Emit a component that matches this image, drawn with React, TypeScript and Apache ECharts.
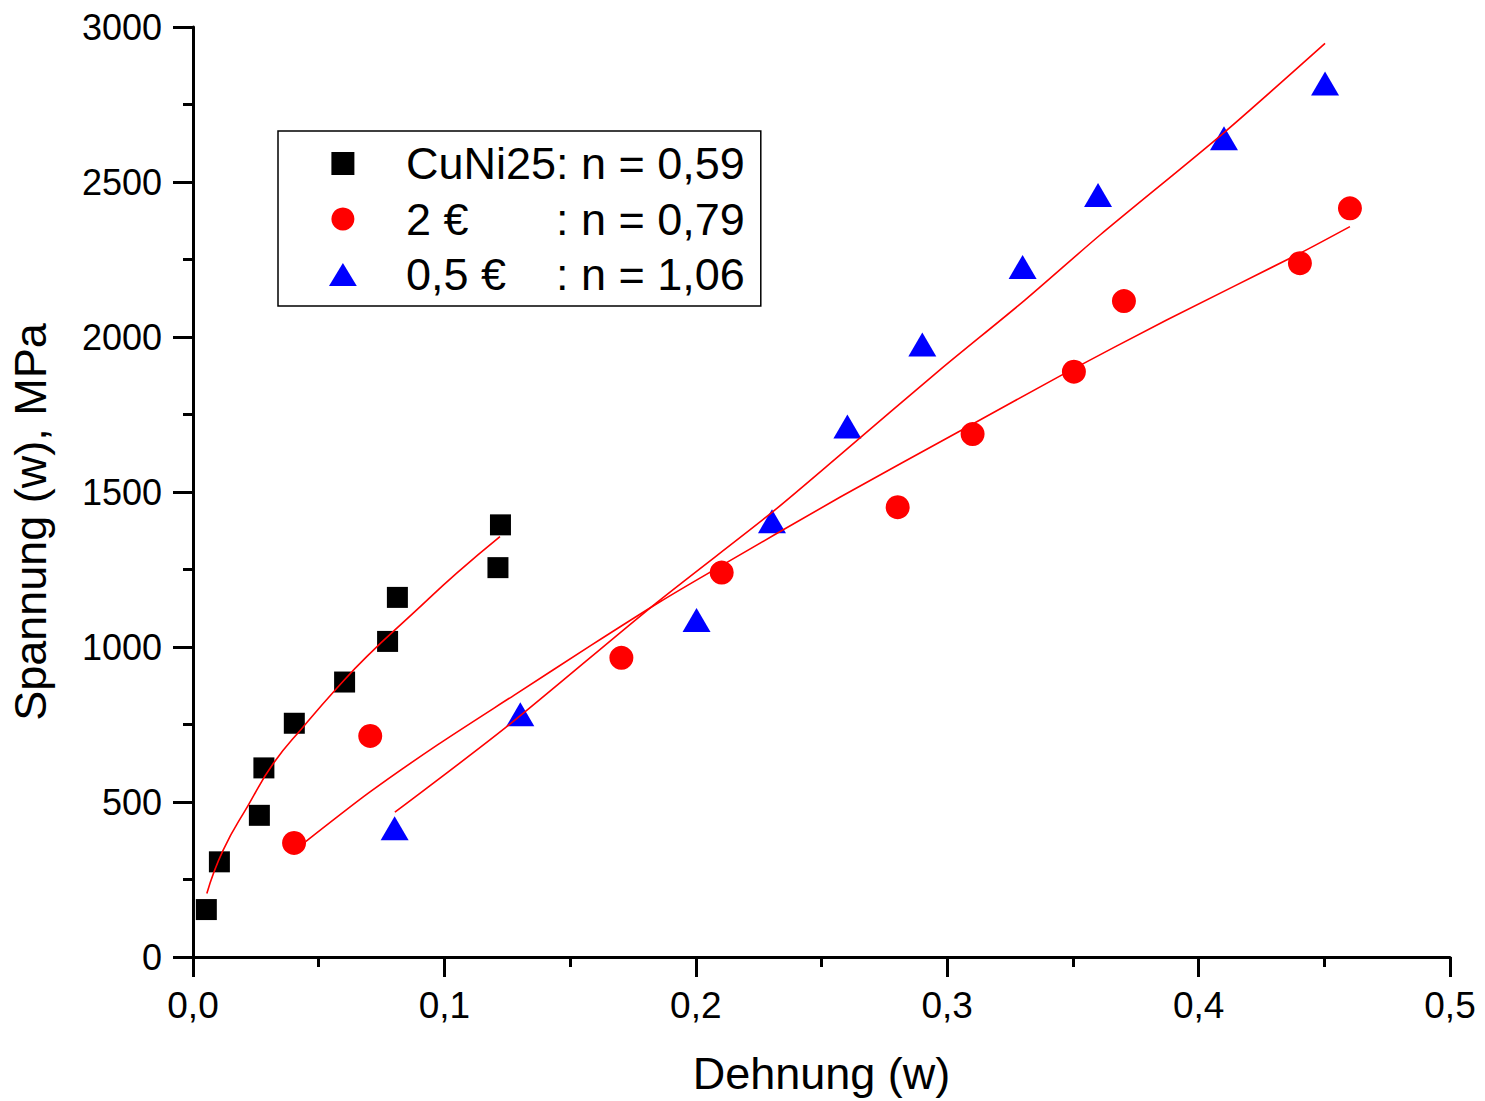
import React, { useEffect, useRef } from "react";
import * as echarts from "echarts";

const FONT = '"Liberation Sans", Arial, Helvetica, sans-serif';

// Legend / series
const seriesNames = ["CuNi25", "2 €", "0,5 €"];
const nLabels = ["0,59", "0,79", "1,06"];
const seriesColors = ["#000000", "#ff0000", "#0000ff"];
const legendIcons = [
  "path://M0,0L22,0L22,22L0,22Z",
  "circle",
  "path://M0,24L14.5,0L29,24Z",
];

// Measured points [Dehnung, Spannung]
const cuni25Points = [
  [0.0053, 153], [0.0105, 307], [0.0264, 457], [0.0282, 610], [0.0403, 754],
  [0.0603, 887], [0.0774, 1018], [0.0813, 1160], [0.1213, 1256], [0.1223, 1394],
];
const euro2Points = [
  [0.0402, 368], [0.0705, 713], [0.1704, 965], [0.2103, 1240], [0.2803, 1451],
  [0.3101, 1687], [0.3504, 1888], [0.3703, 2116], [0.4403, 2238], [0.4602, 2415],
];
const euro05Points = [
  [0.0802, 415], [0.1302, 783], [0.2003, 1087], [0.2303, 1406], [0.2603, 1711],
  [0.2901, 1976], [0.33, 2226], [0.36, 2458], [0.4101, 2641], [0.4503, 2818],
];

// Fit curves
const cuni25Fit = [
  [0.0055, 205], [0.012, 345], [0.022, 490], [0.032, 625], [0.0439, 743],
  [0.0572, 867], [0.0691, 969], [0.0876, 1109], [0.1049, 1238], [0.1221, 1356],
];
const euro2Fit = [
  [0.0448, 372], [0.07, 530], [0.0974, 685], [0.1278, 845], [0.1583, 1005],
  [0.1856, 1145], [0.2054, 1240], [0.2573, 1483], [0.3051, 1697], [0.3455, 1877],
  [0.3873, 2055], [0.4403, 2270], [0.4602, 2356],
];
const euro05Fit = [
  [0.0803, 467], [0.1248, 743], [0.1841, 1141], [0.2298, 1431], [0.2573, 1619],
  [0.2971, 1894], [0.3309, 2119], [0.3608, 2329], [0.4098, 2657], [0.4503, 2947],
];

// Axes
const xTickLabels = ["0,0", "0,1", "0,2", "0,3", "0,4", "0,5"];
const yTickLabels = ["0", "500", "1000", "1500", "2000", "2500", "3000"];
const xTitle = "Dehnung (w)";
const yTitle = "Spannung (w), MPa";

export default function App() {
  const ref = useRef<HTMLDivElement>(null);

  useEffect(() => {
    document.body.style.margin = "0";
    if (!ref.current) return;
    const chart = echarts.init(ref.current, undefined, { renderer: "svg" });

    const axisCommon = {
      axisLine: { show: true, onZero: false, lineStyle: { color: "#000", width: 3 } },
      axisTick: { show: true, inside: false, length: 20, lineStyle: { color: "#000", width: 3 } },
      minorTick: { show: true, splitNumber: 2, length: 10, lineStyle: { color: "#000", width: 3 } },
      splitLine: { show: false },
      minorSplitLine: { show: false },
    };

    const fitLine = (data: number[][], smooth: boolean | number) => ({
      type: "line",
      data,
      smooth,
      symbol: "none",
      showSymbol: false,
      silent: true,
      z: 5,
      lineStyle: { color: "#ff0000", width: 1.6 },
    });

    chart.setOption({
      animation: false,
      backgroundColor: "#ffffff",
      textStyle: { fontFamily: FONT },
      grid: { left: 193, right: 35, top: 27, bottom: 144, containLabel: false },
      legend: {
        show: true,
        data: seriesNames.map((name, i) => ({ name, icon: legendIcons[i] })),
        orient: "vertical",
        left: 278,
        top: 131,
        padding: [10, 16, 9, 51],
        itemGap: 10.5,
        itemWidth: 116,
        itemHeight: 23,
        symbolKeepAspect: true,
        borderColor: "#000",
        borderWidth: 1.5,
        backgroundColor: "#fff",
        selectedMode: false,
        formatter: (name: string) => {
          const i = seriesNames.indexOf(name);
          return `{a|${name}}{b|: n = ${nLabels[i]}}`;
        },
        textStyle: {
          fontFamily: FONT,
          fontSize: 45,
          color: "#000",
          rich: {
            a: { width: 150, fontSize: 45, lineHeight: 50, fontFamily: FONT, color: "#000" },
            b: { fontSize: 45, lineHeight: 50, fontFamily: FONT, color: "#000" },
          },
        },
      },
      xAxis: {
        type: "value",
        min: 0,
        max: 0.5,
        interval: 0.1,
        name: xTitle,
        nameLocation: "middle",
        nameGap: 94,
        nameTextStyle: { fontSize: 45, color: "#000", fontFamily: FONT },
        ...axisCommon,
        axisLabel: {
          margin: 30,
          fontSize: 37,
          color: "#000",
          fontFamily: FONT,
          formatter: (v: number) => xTickLabels[Math.round(v * 10)] ?? "",
        },
      },
      yAxis: {
        type: "value",
        min: 0,
        max: 3000,
        interval: 500,
        name: yTitle,
        nameLocation: "middle",
        nameGap: 140,
        nameTextStyle: { fontSize: 45, color: "#000", fontFamily: FONT, padding: [0, 60, 0, 0] },
        ...axisCommon,
        axisLabel: {
          margin: 31,
          fontSize: 36,
          color: "#000",
          fontFamily: FONT,
          formatter: (v: number) => yTickLabels[Math.round(v / 500)] ?? "",
        },
      },
      series: [
        {
          name: seriesNames[0],
          type: "scatter",
          data: cuni25Points,
          symbol: "rect",
          symbolSize: 21,
          symbolKeepAspect: true,
          itemStyle: { color: seriesColors[0], opacity: 1 },
          z: 3,
        },
        {
          name: seriesNames[1],
          type: "scatter",
          data: euro2Points,
          symbol: "circle",
          symbolSize: 24,
          symbolKeepAspect: true,
          itemStyle: { color: seriesColors[1], opacity: 1 },
          z: 3,
        },
        {
          name: seriesNames[2],
          type: "scatter",
          data: euro05Points,
          symbol: "triangle",
          symbolSize: [28, 24],
          itemStyle: { color: seriesColors[2], opacity: 1 },
          z: 3,
        },
        fitLine(cuni25Fit, true),
        fitLine(euro2Fit, 0.25),
        fitLine(euro05Fit, 0.25),
      ],
    });

    return () => {
      chart.dispose();
    };
  }, []);

  return <div ref={ref} style={{ width: 1485, height: 1101 }} />;
}
